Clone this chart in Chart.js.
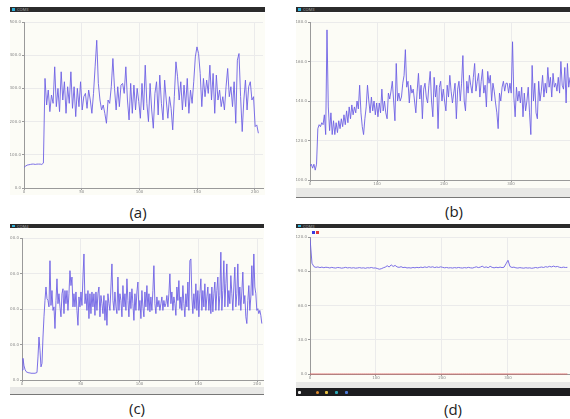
<!DOCTYPE html>
<html lang="en">
<head>
<meta charset="utf-8">
<script src="https://cdn.jsdelivr.net/npm/chart.js@4.4.0/dist/chart.umd.min.js"></script>
<style>
    body { margin: 0; width: 570px; height: 419px; position: relative; background: #fff; overflow: hidden; font-family: "Open Sans", sans-serif; }
    .bar { position: absolute; background: #2b2b2b; }
    .bar i { position: absolute; left: 2px; top: 1px; width: 3px; height: 3px; background: #2fb0d8; }
    .bar span { position: absolute; left: 7px; top: 0; font-size: 4px; line-height: 5px; color: #aaa; }
    .plot { position: absolute; background: #fcfcf6; }
    .foot { position: absolute; background: #e8e8e6; }
    .cap { position: absolute; width: 40px; text-align: center; font-size: 15px; line-height: 16px; color: #222; }
    .sq { position: absolute; width: 3px; height: 3px; }
    .ico { position: absolute; width: 3px; height: 3px; top: 391px; border-radius: 1px; }
</style>
</head>
<body>
    <!-- (a) -->
    <div class="bar" style="left:10px;top:7px;width:255px;height:5px;"><i></i><span>COM3</span></div>
    <div class="plot" style="left:10px;top:13px;width:255px;height:182px;"><canvas id="chartA"></canvas></div>
    <div class="cap" style="left:118px;top:204px;">(a)</div>

    <!-- (b) -->
    <div class="bar" style="left:296px;top:7px;width:274px;height:5px;"><i></i><span>COM3</span></div>
    <div class="plot" style="left:296px;top:13px;width:274px;height:175px;"><canvas id="chartB"></canvas></div>
    <div class="foot" style="left:296px;top:188px;width:274px;height:9px;border-bottom:1px solid #777;"></div>
    <div class="cap" style="left:434px;top:203px;">(b)</div>

    <!-- (c) -->
    <div class="bar" style="left:10px;top:224px;width:254px;height:4px;"><i style="top:1px;height:2px;"></i><span>COM4</span></div>
    <div class="plot" style="left:10px;top:229px;width:254px;height:158px;"><canvas id="chartC"></canvas></div>
    <div class="foot" style="left:10px;top:387px;width:254px;height:7px;border-bottom:1px solid #777;"></div>
    <div class="cap" style="left:117px;top:400px;">(c)</div>

    <!-- (d) -->
    <div class="bar" style="left:296px;top:224px;width:274px;height:4px;"><i style="top:1px;height:2px;"></i><span>COM3</span></div>
    <div class="plot" style="left:296px;top:229px;width:274px;height:153px;"><canvas id="chartD"></canvas></div>
    <div class="sq" style="left:312px;top:231px;background:#3a3ae0;"></div>
    <div class="sq" style="left:316px;top:231px;background:#e03a3a;"></div>
    <div class="foot" style="left:296px;top:382px;width:274px;height:6px;"></div>
    <div style="position:absolute;left:296px;top:388px;width:274px;height:8px;background:#1d1d1f;"></div>
    <div class="ico" style="left:298px;background:#eee;"></div>
    <div class="ico" style="left:316px;background:#e08a2a;border-radius:2px;"></div>
    <div class="ico" style="left:325px;background:#e8c040;"></div>
    <div class="ico" style="left:335px;background:#2aa8b8;"></div>
    <div class="ico" style="left:345px;background:#4a7ad8;"></div>
    <div class="cap" style="left:433px;top:401px;">(d)</div>

    <script>
        // (a) one sample every 1.4 x units
        const seriesA = [62, 66, 69, 70, 71, 72, 72, 71, 72, 72, 72, 71, 75,
            330, 250, 295, 230, 280, 255, 365, 245, 300, 230,
            350, 265, 320, 225, 305, 255, 350, 240, 305, 215,
            300, 245, 320, 235, 275, 285, 240, 295, 265, 225,
            285, 365, 445, 315, 265, 235, 250, 225, 195, 265,
            255, 305, 390, 300, 235, 305, 245, 310, 315, 285,
            365, 265, 205, 315, 225, 310, 235, 300, 260, 210,
            315, 235, 370, 255, 200, 315, 235, 180, 285, 320,
            220, 340, 255, 205, 325, 265, 210, 275, 240, 175,
            275, 380, 335, 265, 320, 235, 310, 245, 330, 225,
            295, 255, 320, 395, 425, 405, 345, 245, 330, 275,
            325, 285, 370, 265, 345, 225, 340, 265, 295, 245,
            275, 235, 305, 360, 275, 305, 245, 320, 195, 385,
            405, 275, 170, 265, 325, 235, 305, 320, 265, 275,
            185, 190, 165];
        const STEP_A = 1.4;
        const xTicksA = [0, 50, 100, 150, 200];
        const xLabelsA = ['0', '50', '100', '150', '200'];
        const yTicksA = [0, 100, 200, 300, 400, 500];
        const yLabelsA = ['0.0', '100.0', '200.0', '300.0', '400.0', '500.0'];

        // (b) one sample every 1.95 x units
        const seriesB = [107, 108, 106, 108, 105, 108, 126, 128, 127, 129,
            128, 133, 123, 176, 137, 125, 134, 123, 130, 123,
            129, 124, 130, 126, 131, 127, 133, 128, 135, 129,
            137, 131, 138, 133, 137, 134, 140, 136, 148, 134,
            127, 123, 131, 137, 148, 140, 134, 142, 135, 140,
            133, 139, 132, 139, 134, 146, 135, 140, 134, 131,
            144, 141, 145, 150, 140, 130, 159, 140, 144, 140,
            142, 149, 153, 166, 147, 150, 139, 148, 144, 146,
            140, 134, 145, 154, 141, 148, 131, 146, 149, 142,
            139, 148, 155, 140, 132, 152, 142, 148, 126, 147,
            150, 140, 146, 140, 135, 148, 142, 153, 145, 139,
            144, 149, 131, 146, 150, 140, 149, 163, 140, 135,
            150, 144, 153, 148, 144, 152, 159, 145, 150, 154,
            142, 150, 156, 144, 148, 137, 155, 149, 153, 140,
            149, 145, 139, 134, 126, 144, 140, 147, 150, 145,
            149, 149, 144, 149, 144, 170, 142, 132, 147, 140,
            145, 139, 147, 132, 144, 135, 140, 147, 134, 123,
            158, 140, 149, 134, 131, 150, 140, 145, 153, 142,
            149, 144, 157, 147, 152, 142, 154, 147, 149, 145,
            152, 144, 160, 148, 146, 157, 139, 159, 147, 152];
        const STEP_B = 1.95;
        const xTicksB = [0, 100, 200, 300];
        const xLabelsB = ['0', '100', '200', '300'];
        const yTicksB = [100, 120, 140, 160, 180];
        const yLabelsB = ['100.0', '120.0', '140.0', '160.0', '180.0'];

        // (c) one sample every 0.85 x units
        const seriesC = [28, 61, 40, 30, 24, 22, 21, 20, 20, 19, 19, 19, 19, 19, 20, 21,
            65, 121, 84, 37, 47, 121, 178, 224,
            262, 229, 224, 206, 336, 210, 252, 196, 206, 145,
            224, 285, 215, 243, 206, 178, 243, 257, 187, 252,
            215, 252, 196, 243, 308, 266, 290, 206, 243, 206,
            248, 196, 154, 234, 206, 248, 210, 290, 355, 215,
            243, 196, 252, 173, 243, 187, 248, 206, 243, 182,
            248, 196, 243, 262, 178, 238, 215, 187, 238, 168,
            224, 154, 243, 215, 196, 262, 327, 224, 196, 248,
            206, 187, 290, 196, 243, 224, 178, 266, 206, 243,
            196, 285, 224, 178, 248, 201, 257, 215, 168, 243,
            196, 248, 276, 196, 224, 173, 252, 206, 178, 248,
            206, 266, 196, 243, 192, 234, 196, 252, 322, 215,
            187, 234, 206, 224, 196, 215, 234, 196, 224, 206,
            215, 238, 206, 243, 299, 215, 248, 196, 234, 215,
            182, 262, 224, 280, 201, 234, 196, 266, 215, 178,
            243, 206, 276, 196, 336, 341, 234, 187, 243, 201,
            271, 196, 252, 178, 243, 285, 196, 252, 206, 271,
            196, 234, 262, 196, 243, 187, 262, 192, 243, 276,
            196, 252, 290, 196, 238, 360, 196, 252, 336, 206,
            271, 327, 206, 252, 215, 294, 243, 196, 262, 318,
            206, 243, 327, 210, 262, 196, 248, 304, 215, 238,
            178, 159, 224, 266, 196, 234, 322, 238, 355, 262,
            243, 196, 201, 187, 196, 182, 159];
        const STEP_C = 0.85;
        const xTicksC = [0, 50, 100, 150, 200];
        const xLabelsC = ['0', '50', '100', '150', '200'];
        const yTicksC = [0, 100, 200, 300, 400];
        const yLabelsC = ['0.0', '100.0', '200.0', '300.0', '400.0'];

        // (d) one sample every 3 x units, blue trace
        const seriesD = [119, 97, 94, 93.4, 93.8, 93.2, 93.6, 93.1, 93.5, 93.3,
            92.9, 93.4, 93.0, 92.8, 93.3, 93.1, 92.7, 93.0, 93.4, 92.9,
            93.2, 92.8, 93.1, 92.7, 92.9, 93.2, 92.8, 93.0, 92.6, 93.1,
            92.9, 93.3, 92.8, 92.9, 92.4, 91.8, 92.2, 93.0, 93.6, 94.8,
            93.7, 95.6, 94.2, 95.1, 93.8, 93.4, 94.0, 93.2, 93.5, 92.9,
            93.1, 92.8, 93.3, 93.0, 93.4, 93.1, 93.6, 93.2, 93.8, 93.3,
            94.0, 93.5, 93.9, 93.2, 93.7, 93.3, 93.9, 93.4, 93.0, 93.3,
            92.9, 93.1, 92.8, 93.2, 92.9, 93.3, 93.0, 92.8, 93.2, 92.9,
            93.4, 93.0, 92.8, 93.3, 93.9, 93.2, 93.6, 94.4, 93.3, 93.8,
            93.1, 94.3, 93.4, 93.0, 93.5, 93.1, 93.6, 93.2, 93.5, 96.5,
            99.6, 94.2, 93.3, 93.6, 93.0, 92.8, 93.2, 92.9, 92.7, 93.1,
            92.8, 93.0, 92.6, 92.9, 93.3, 92.9, 93.4, 93.7, 93.3, 94.0,
            93.6, 94.3, 93.8, 94.5, 93.9, 94.2, 93.5, 93.2, 93.6, 93.3, 93.4];
        // red trace reads 0 over the whole run
        const seriesD2 = seriesD.map(() => 0);
        const STEP_D = 3;
        const xTicksD = [0, 100, 200, 300];
        const xLabelsD = ['0', '100', '200', '300'];
        const yTicksD = [0, 30, 60, 90, 120];
        const yLabelsD = ['0.0', '30.0', '60.0', '90.0', '120.0'];

        const LINE = 'rgba(110, 96, 228, 0.9)';

        function axis(ticks, labels, min, max, size, isX) {
            return {
                type: 'linear', min: min, max: max,
                afterBuildTicks: s => { s.ticks = ticks.map(v => ({ value: v })); },
                afterFit: s => { if (isX) s.height = size; else s.width = size; },
                grid: { color: '#ebebeb', tickColor: '#9a9a9a', tickLength: 2, lineWidth: 1 },
                border: { color: '#9a9a9a', width: 1 },
                ticks: {
                    autoSkip: false, maxRotation: 0, padding: isX ? 0 : 1,
                    font: { size: 4, family: 'DejaVu Sans' }, color: '#8a8a8a',
                    callback: v => labels[ticks.indexOf(v)] ?? ''
                }
            };
        }

        function panel(id, values, step, p) {
            const pts = values.map((v, i) => ({ x: i * step, y: v }));
            const datasets = [{ data: pts, borderColor: LINE, borderWidth: 1, pointRadius: 0, tension: 0 }];
            if (p.extra) {
                datasets.push({
                    data: p.extra.map((v, i) => ({ x: i * step, y: v })),
                    borderColor: 'rgba(220, 90, 90, 0.8)', borderWidth: 1, pointRadius: 0, clip: 3
                });
            }
            return new Chart(document.getElementById(id), {
                type: 'line',
                data: { datasets: datasets },
                options: {
                    responsive: true, maintainAspectRatio: false, animation: false,
                    layout: { padding: { top: p.padTop, right: p.padRight, left: 0, bottom: 0 } },
                    plugins: { legend: { display: false }, tooltip: { enabled: false } },
                    scales: {
                        x: axis(p.xTicks, p.xLabels, 0, p.xMax, p.xH, true),
                        y: axis(p.yTicks, p.yLabels, p.yMin, p.yMax, p.yW, false)
                    }
                }
            });
        }

        panel('chartA', seriesA, STEP_A, {
            xTicks: xTicksA, xLabels: xLabelsA, yTicks: yTicksA, yLabels: yLabelsA,
            xMax: 207, yMin: 0, yMax: 500, padTop: 9, padRight: 2, xH: 7, yW: 14
        });
        panel('chartB', seriesB, STEP_B, {
            xTicks: xTicksB, xLabels: xLabelsB, yTicks: yTicksB, yLabels: yLabelsB,
            xMax: 388, yMin: 100, yMax: 180, padTop: 9, padRight: 0, xH: 8, yW: 14
        });
        panel('chartC', seriesC, STEP_C, {
            xTicks: xTicksC, xLabels: xLabelsC, yTicks: yTicksC, yLabels: yLabelsC,
            xMax: 205, yMin: 0, yMax: 400, padTop: 9, padRight: 1, xH: 7, yW: 12
        });
        panel('chartD', seriesD, STEP_D, {
            xTicks: xTicksD, xLabels: xLabelsD, yTicks: yTicksD, yLabels: yLabelsD,
            xMax: 394, yMin: 0, yMax: 120, padTop: 8, padRight: 0, xH: 8, yW: 14,
            extra: seriesD2
        });
    </script>
</body>
</html>
